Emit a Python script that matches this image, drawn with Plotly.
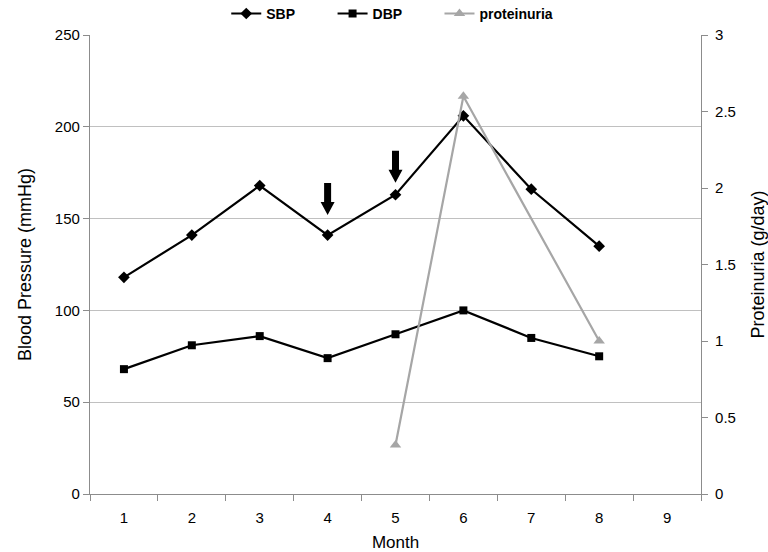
import plotly.graph_objects as go

months = ["1", "2", "3", "4", "5", "6", "7", "8", "9"]
sbp_months = ["1", "2", "3", "4", "5", "6", "7", "8"]
sbp = [118, 141, 168, 141, 163, 206, 166, 135]
dbp = [68, 81, 86, 74, 87, 100, 85, 75]
prot_months = ["5", "6", "8"]
proteinuria = [0.32, 2.6, 1.0]
arrow_months = ["4", "5"]
arrow_offsets = [20, 12]  # pixel gap above SBP point

FONT = "Liberation Sans Narrow, Arial Narrow, Liberation Sans, Arial"
AXIS_GRAY = "#8c8c8c"
GRID_GRAY = "#c0c0c0"

fig = go.Figure()
fig.add_trace(go.Scatter(x=sbp_months, y=sbp, name="SBP", mode="lines+markers",
                         line=dict(color="black", width=2.2), legend="legend",
                         marker=dict(symbol="diamond", size=9, color="black")))
fig.add_trace(go.Scatter(x=sbp_months, y=dbp, name="DBP", mode="lines+markers",
                         line=dict(color="black", width=2.2), legend="legend2",
                         marker=dict(symbol="square", size=8, color="black")))
fig.add_trace(go.Scatter(x=prot_months, y=proteinuria, name="proteinuria", mode="lines+markers",
                         yaxis="y2", legend="legend3",
                         line=dict(color="#a6a6a6", width=2.2),
                         marker=dict(symbol="triangle-up", size=10, color="#a6a6a6")))

shapes = []
for m, off in zip(arrow_months, arrow_offsets):
    yv = sbp[sbp_months.index(m)]
    tip = off
    neck = off + 13
    top = off + 32
    path = (f"M -3.5 {top} L 3.5 {top} L 3.5 {neck} L 7 {neck} L 0 {tip} "
            f"L -7 {neck} L -3.5 {neck} Z")
    shapes.append(dict(type="path", xref="x", yref="y", xsizemode="pixel", ysizemode="pixel",
                       xanchor=months.index(m), yanchor=yv, path=path,
                       fillcolor="black", line=dict(color="black", width=0)))

legend_font = dict(family="Liberation Sans, Arial", size=14, color="black", weight="bold")


def legend_at(x):
    return dict(orientation="h", xref="paper", x=x, xanchor="left",
                yref="paper", y=1.046, yanchor="middle", font=legend_font,
                itemwidth=30, bgcolor="rgba(0,0,0,0)")


fig.update_layout(
    width=768, height=552,
    margin=dict(l=90, r=67, t=35, b=58, autoexpand=False),
    paper_bgcolor="white", plot_bgcolor="white",
    font=dict(family=FONT, size=15, color="black"),
    shapes=shapes,
    showlegend=True,
    legend=legend_at(0.223),
    legend2=legend_at(0.397),
    legend3=legend_at(0.572),
    xaxis=dict(type="category", categoryorder="array", categoryarray=months,
               range=[-0.5, 8.5], tickson="boundaries", ticks="outside", ticklen=6,
               tickcolor=AXIS_GRAY, showline=True, linecolor=AXIS_GRAY, linewidth=1.2,
               showgrid=False, zeroline=False, automargin=False, ticklabelstandoff=10,
               title=dict(text="Month", font=dict(size=17), standoff=11)),
    yaxis=dict(range=[0, 250], dtick=50, ticks="outside", ticklen=6, tickcolor=AXIS_GRAY,
               showline=True, linecolor=AXIS_GRAY, linewidth=1.2, automargin=False,
               showgrid=True, gridcolor=GRID_GRAY, gridwidth=1.2, zeroline=False,
               title=dict(text="Blood Pressure (mmHg)", font=dict(size=18), standoff=18)),
    yaxis2=dict(range=[0, 3], dtick=0.5, overlaying="y", side="right", ticks="outside",
                ticklen=6, tickcolor=AXIS_GRAY, showline=True, linecolor=AXIS_GRAY,
                linewidth=1.2, showgrid=False, zeroline=False, automargin=False,
                ticklabelstandoff=4,
                title=dict(text="Proteinuria (g/day)", font=dict(size=18), standoff=16)),
)

fig.write_html("out.html", config={"displayModeBar": False},
               post_script="document.body.style.margin='0';document.body.style.overflow='hidden';")
